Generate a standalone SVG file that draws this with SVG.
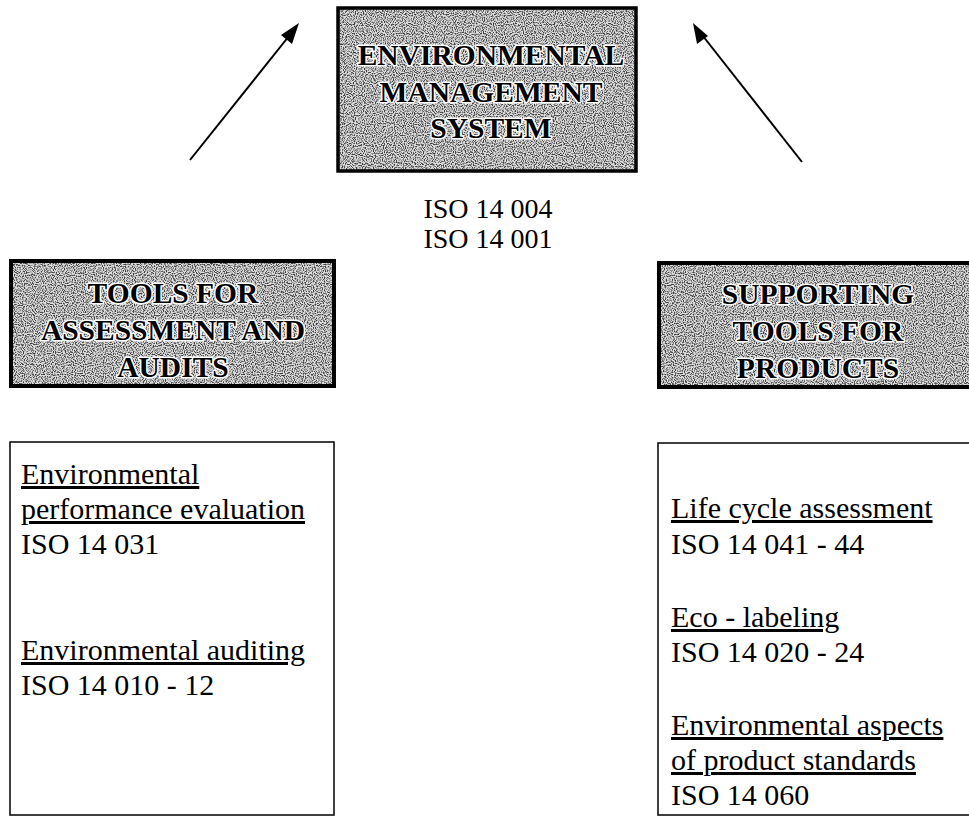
<svg xmlns="http://www.w3.org/2000/svg" width="969" height="817" viewBox="0 0 969 817">
<defs>
<style>
.hdr{font-family:"Liberation Serif","Times New Roman",serif;font-weight:bold;font-size:29.5px;fill:#000;stroke:#fff;stroke-width:3px;paint-order:stroke;stroke-linejoin:round;text-anchor:middle}
.body{font-family:"Liberation Serif","Times New Roman",serif;font-size:30px;fill:#000}
.u{text-decoration:underline}
.iso{font-family:"Liberation Serif","Times New Roman",serif;font-size:28px;fill:#000;text-anchor:middle}
.gbox{fill:url(#speck);stroke:#000}
.wbox{fill:#fff;stroke:#000;stroke-width:1.5}
.conn{stroke:#000;stroke-width:2;fill:none}
</style>
<filter id="nz" x="0" y="0" width="100%" height="100%">
<feTurbulence type="fractalNoise" baseFrequency="0.9" numOctaves="1" seed="3" result="t"/>
<feColorMatrix in="t" type="matrix" values="0 0 0 0 0  0 0 0 0 0  0 0 0 0 0  0 0 0 -4 2.3" result="m"/>
</filter>
<pattern id="speck" patternUnits="userSpaceOnUse" width="200" height="200">
<rect width="200" height="200" fill="#dcdcdc"/>
<rect width="200" height="200" fill="#000" filter="url(#nz)" opacity="0.7"/>
</pattern>
</defs>
<rect width="969" height="817" fill="#fff"/>
<g id="connectors">
<line class="conn" x1="190" y1="160" x2="293" y2="31"/>
<path d="M299,23 L281,35 L292,44 z" fill="#000"/>
<line class="conn" x1="802" y1="162" x2="699" y2="31"/>
<path d="M693,23 L697,44 L708,36 z" fill="#000"/>
</g>
<g id="ems">
<rect class="gbox" x="338" y="8" width="298" height="163" stroke-width="3.5"/>
<text class="hdr" x="491" y="65">ENVIRONMENTAL</text>
<text class="hdr" x="491" y="102">MANAGEMENT</text>
<text class="hdr" x="491" y="138">SYSTEM</text>
</g>
<g id="ems-iso">
<text class="iso" x="488" y="218">ISO 14 004</text>
<text class="iso" x="488" y="248">ISO 14 001</text>
</g>
<g id="tools-assess">
<rect class="gbox" x="11" y="261" width="323" height="125" stroke-width="4"/>
<text class="hdr" x="173" y="303">TOOLS FOR</text>
<text class="hdr" x="173" y="340">ASSESSMENT AND</text>
<text class="hdr" x="173" y="377">AUDITS</text>
</g>
<g id="tools-products">
<rect class="gbox" x="659" y="263" width="318" height="124" stroke-width="4"/>
<text class="hdr" x="818" y="304">SUPPORTING</text>
<text class="hdr" x="818" y="341">TOOLS FOR</text>
<text class="hdr" x="818" y="378">PRODUCTS</text>
</g>
<g id="assess-list">
<rect class="wbox" x="10" y="442" width="324" height="373"/>
<text class="body u" x="21" y="484">Environmental</text>
<text class="body u" x="21" y="519">performance evaluation</text>
<text class="body" x="21" y="554">ISO 14 031</text>
<text class="body u" x="21" y="660">Environmental auditing</text>
<text class="body" x="21" y="695">ISO 14 010 - 12</text>
</g>
<g id="products-list">
<rect class="wbox" x="658" y="443" width="320" height="372"/>
<text class="body u" x="671" y="518">Life cycle assessment</text>
<text class="body" x="671" y="554">ISO 14 041 - 44</text>
<text class="body u" x="671" y="627">Eco - labeling</text>
<text class="body" x="671" y="662">ISO 14 020 - 24</text>
<text class="body u" x="671" y="735">Environmental aspects</text>
<text class="body u" x="671" y="770">of product standards</text>
<text class="body" x="671" y="805">ISO 14 060</text>
</g>
</svg>
